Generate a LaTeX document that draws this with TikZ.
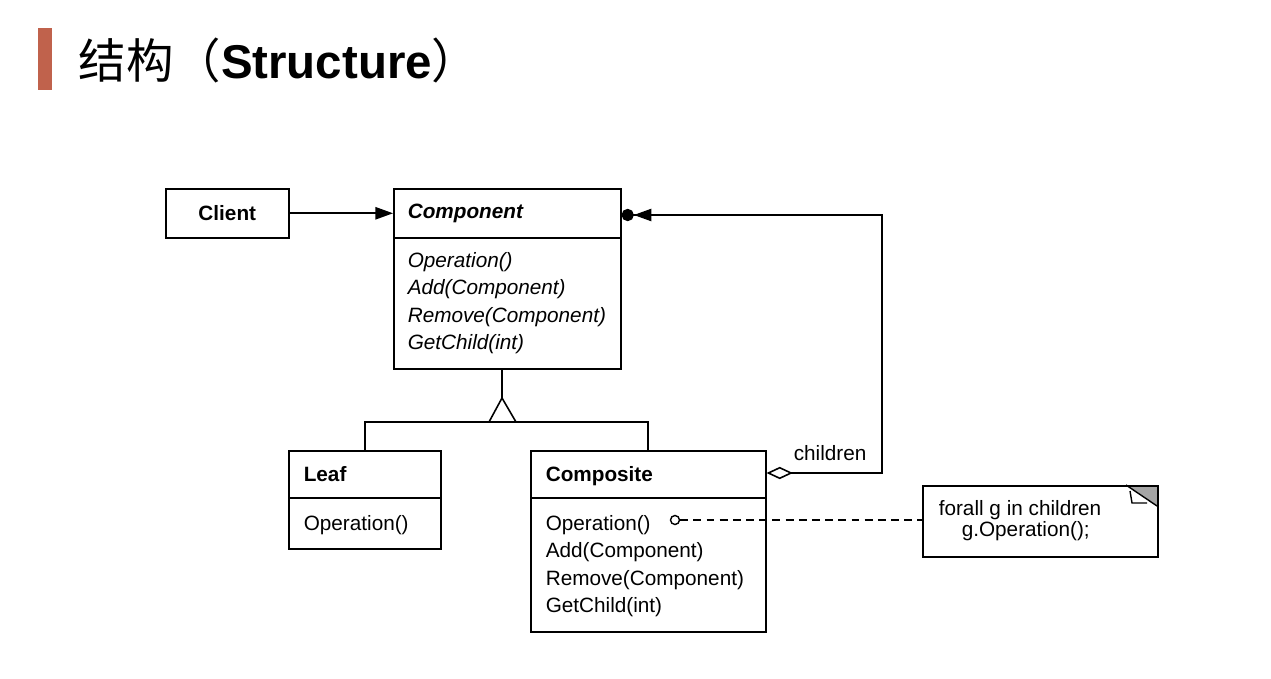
\documentclass[tikz,border=0pt]{standalone}
\usepackage{fontspec}
\setmainfont{Liberation Sans}
\newfontfamily\cjk{Noto Sans CJK SC}
\usetikzlibrary{arrows.meta, positioning, calc}
\definecolor{titlebar}{RGB}{192,98,76}
\definecolor{foldgray}{RGB}{165,165,165}
\tikzset{
  box/.style={draw, anchor=north west, inner sep=0pt, fill=white},
  member/.style={anchor=base west, inner sep=0pt, font=\fontsize{11.8}{14}\selectfont},
}

\begin{document}
\begin{tikzpicture}[x=0.02cm, y=-0.02cm, >=Stealth, line width=0.9pt]
    \useasboundingbox (0,0) rectangle (1271,679);
    % title
    \fill[titlebar] (38,28) rectangle (52,90);
    \node[anchor=base west, inner sep=0pt, font=\fontsize{27}{30}\selectfont] (title) at (78,79)
        {{\cjk 结构（}\textbf{Structure}{\cjk ）}};

    % classes
    \node[box, minimum width=2.46cm, minimum height=0.98cm, font=\fontsize{11.8}{14}\selectfont] (client) at (165,188) {\textbf{Client}};
    \node[box, minimum width=4.54cm, minimum height=3.6cm] (component) at (393,188) {};
    \draw (component.west |- 0,238) -- (component.east |- 0,238);
    \node[member] (compname) at (407,218) {\textbf{\itshape Component}};
    \foreach \y/\t in {267/Operation(), 294/Add(Component), 322/Remove(Component), 349/GetChild(int)}
        \node[member] (compop\y) at (407,\y) {\itshape \t};

    \node[box, minimum width=3.04cm, minimum height=1.96cm] (leaf) at (288,450) {};
    \draw (leaf.west |- 0,498) -- (leaf.east |- 0,498);
    \node[member] (leafname) at (303,481) {\textbf{Leaf}};
    \node[member] (leafop) at (303,530) {Operation()};

    \node[box, minimum width=4.7cm, minimum height=3.62cm] (composite) at (530,450) {};
    \draw (composite.west |- 0,498) -- (composite.east |- 0,498);
    \node[member] (compositename) at (545,481) {\textbf{Composite}};
    \foreach \y/\t in {530/Operation(), 557/Add(Component), 585/Remove(Component), 612/GetChild(int)}
        \node[member] (compositeop\y) at (545,\y) {\t};

    % note with folded corner
    \fill[foldgray] (1126,485) -- (1157,485) -- (1157,506) -- cycle;
    \draw[line width=0.8pt] (1126,485) -- (1157,506);
    \draw[line width=0.8pt] (1130,491) -- (1132,503) -- (1147,503);
    \node[box, fill=none, minimum width=4.7cm, minimum height=1.42cm] (note) at (922,485) {};
    \node[member] (noteline1) at (938,515) {forall g in children};
    \node[member] (noteline2) at (961,536) {g.Operation();};

    % connectors
    \draw[-{Triangle[length=10pt,width=7pt]}] (client.east) -- (client.east -| component.west);
    \coordinate (bend) at (882,215);
    \draw[{Diamond[open,length=15pt,width=7pt]}-{Triangle[length=10pt,width=7pt] Circle[length=7pt]}]
        (composite.east |- 0,473) -| (bend) -- (bend -| component.east);
    \node[member] (childlabel) at (793,460) {children};

    \coordinate (apex) at (502,398);
    \draw (apex |- component.south) -- (apex);
    \draw (apex) -- (489,422) -- (516,422) -- cycle;
    \draw (leaf.north) -- ++(0,-28) -| (composite.north);

    \node[circle, draw, inner sep=0pt, minimum size=0.18cm, line width=0.8pt] (opdot) at (675,520) {};
    \draw[dash pattern=on 4.5pt off 3pt] (opdot) -- (opdot -| note.west);
\end{tikzpicture}
\end{document}
